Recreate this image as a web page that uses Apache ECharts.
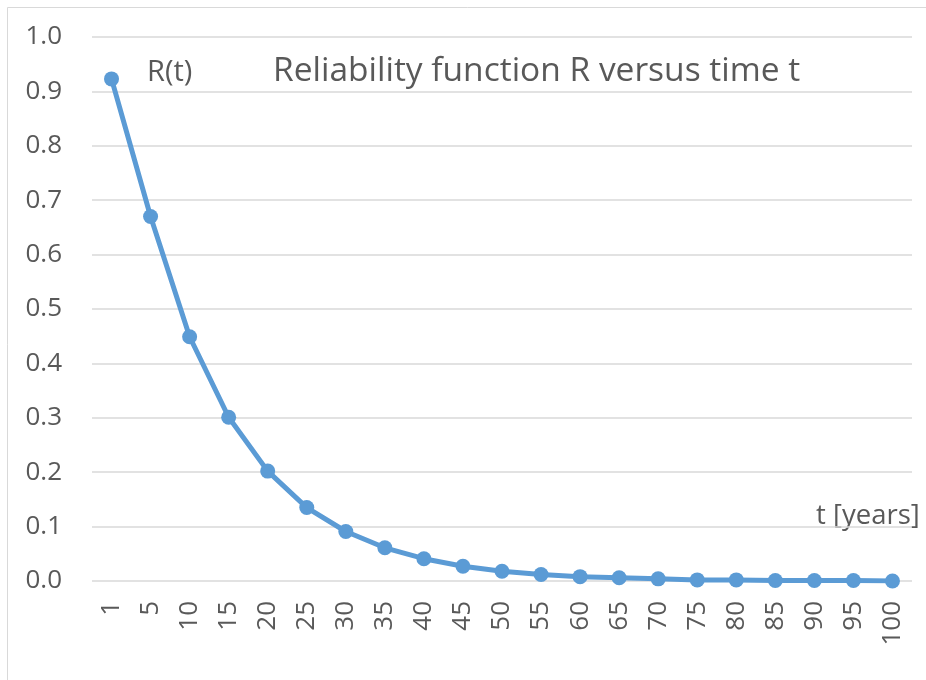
<!DOCTYPE html>
<html>
<head>
<meta charset="utf-8">
<script src="https://cdn.jsdelivr.net/npm/echarts@6/dist/echarts.min.js"></script>
<style>
  html, body { margin: 0; padding: 0; background: #fff; }
  #chart { width: 926px; height: 680px; }
</style>
</head>
<body>
<div id="chart"></div>
<script>
// t in years
const years = ['1', '5', '10', '15', '20', '25', '30', '35', '40', '45', '50',
    '55', '60', '65', '70', '75', '80', '85', '90', '95', '100']
// R(t)
const reliability = [0.923, 0.670, 0.449, 0.301, 0.202, 0.135, 0.091, 0.061, 0.041, 0.027, 0.018,
    0.012, 0.008, 0.006, 0.004, 0.002, 0.002, 0.001, 0.001, 0.001, 0.000]

const textColor = '#595959'
const font = '"Open Sans", "Liberation Sans", sans-serif'

const chart = echarts.init(document.getElementById('chart'))

const options = {
    backgroundColor: '#fff',
    animation: false,
    grid: {
        left: 92,
        right: 14,
        top: 37,
        bottom: 99,
    },
    xAxis: {
        type: 'category',
        data: years,
        boundaryGap: true,
        axisLine: { show: false },
        axisTick: { show: false },
        axisLabel: {
            rotate: 90,
            color: textColor,
            fontFamily: font,
            fontSize: 26,
            margin: 20,
            interval: 0,
        },
    },
    yAxis: {
        type: 'value',
        min: 0,
        max: 1,
        interval: 0.1,
        axisLine: { show: false },
        axisTick: { show: false },
        axisLabel: {
            color: textColor,
            fontFamily: font,
            fontSize: 26,
            margin: 30,
            formatter: v => v.toFixed(1),
        },
        splitLine: {
            lineStyle: {
                color: '#d9d9d9',
                width: 1.5,
            },
        },
    },
    series: [
        {
            type: 'line',
            data: reliability,
            symbol: 'circle',
            symbolSize: 15,
            lineStyle: { color: '#5b9bd5', width: 5 },
            itemStyle: { color: '#5b9bd5' },
        },
    ],
    graphic: [
        {
            type: 'rect',
            shape: { x: 7.5, y: 7.5, width: 940, height: 700 },
            style: { fill: 'none', stroke: '#d9d9d9', lineWidth: 1 },
            silent: true,
        },
        {
            // chart title
            type: 'text',
            x: 273,
            y: 71,
            style: { text: 'Reliability function R versus time t', fill: textColor,
                font: '33.5px ' + font, verticalAlign: 'middle' },
        },
        {
            type: 'text',
            x: 147,
            y: 73,
            style: { text: 'R(t)', fill: textColor, font: '29px ' + font, verticalAlign: 'middle' },
        },
        {
            type: 'text',
            x: 816,
            y: 516,
            style: { text: 't [years]', fill: textColor, font: '27.5px ' + font, verticalAlign: 'middle' },
        },
    ],
}

chart.setOption(options)
</script>
</body>
</html>
